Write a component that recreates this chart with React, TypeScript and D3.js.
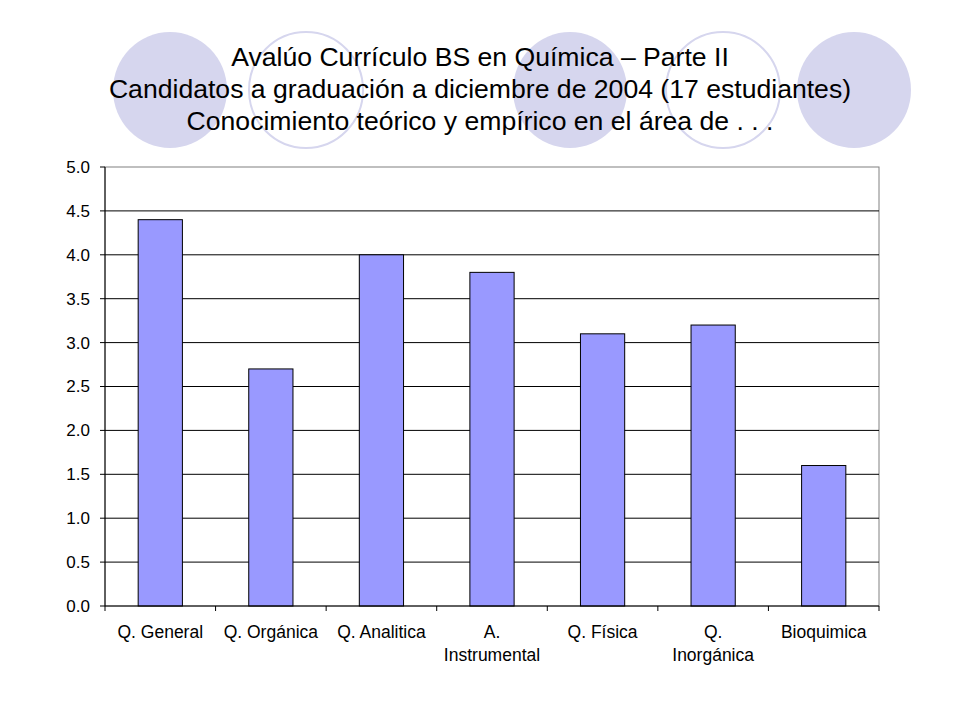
import * as d3 from "d3";

const categories = [
  ["Q. General"],
  ["Q. Orgánica"],
  ["Q. Analitica"],
  ["A.", "Instrumental"],
  ["Q. Física"],
  ["Q.", "Inorgánica"],
  ["Bioquimica"],
];
const values = [4.4, 2.7, 4.0, 3.8, 3.1, 3.2, 1.6];
const yTicks = [0, 0.5, 1, 1.5, 2, 2.5, 3, 3.5, 4, 4.5, 5];
const titleLines = [
  "Avalúo Currículo BS en Química – Parte II",
  "Candidatos a graduación a diciembre de 2004 (17 estudiantes)",
  "Conocimiento teórico y empírico en el área de . . .",
];

// decorative circles behind the title: [cx, filled]
const circles: [number, boolean][] = [
  [170, true],
  [306, false],
  [570, true],
  [723, false],
  [854, true],
];

const width = 960;
const height = 720;
const margin = { top: 167, right: 81, bottom: 114, left: 105 };

export default function App() {
  const innerW = width - margin.left - margin.right;
  const innerH = height - margin.top - margin.bottom;

  const x = d3
    .scaleBand<number>()
    .domain(d3.range(values.length))
    .range([0, innerW])
    .paddingInner(0.6)
    .paddingOuter(0.3);

  const y = d3.scaleLinear().domain([0, 5]).range([innerH, 0]);
  const step = innerW / values.length;

  return (
    <svg
      width={width}
      height={height}
      style={{ position: "absolute", left: 0, top: 0, background: "#fff" }}
      fontFamily="'Liberation Sans', Arial, sans-serif"
    >
      {circles.map(([cx, filled], i) => (
        <ellipse
          key={i}
          cx={cx}
          cy={90}
          rx={57}
          ry={58}
          fill={filled ? "#d6d6ee" : "#fff"}
          stroke="#d6d6ee"
          strokeWidth={filled ? 0 : 2}
        />
      ))}
      {titleLines.map((t, i) => (
        <text
          key={i}
          x={480}
          y={66 + i * 32}
          textAnchor="middle"
          fontSize={26.6}
          fill="#000"
        >
          {t}
        </text>
      ))}

      <g transform={`translate(${margin.left},${margin.top})`}>
        <rect width={innerW} height={innerH} fill="#fff" stroke="#808080" />
        {yTicks.map((t) => (
          <g key={t} transform={`translate(0,${y(t)})`}>
            {t > 0 && t < 5 && (
              <line x1={0} x2={innerW} stroke="#000" strokeWidth={1} />
            )}
            <line x1={-5} x2={0} stroke="#000" />
            <text
              x={-15}
              dy="0.35em"
              textAnchor="end"
              fontSize={17}
              fill="#000"
            >
              {t.toFixed(1)}
            </text>
          </g>
        ))}
        {values.map((v, i) => (
          <rect
            key={i}
            x={x(i)}
            y={y(v)}
            width={x.bandwidth()}
            height={innerH - y(v)}
            fill="#9999ff"
            stroke="#000"
            strokeWidth={1}
          />
        ))}
        <line x1={0} x2={0} y1={0} y2={innerH} stroke="#000" />
        <line x1={0} x2={innerW} y1={innerH} y2={innerH} stroke="#000" />
        {d3.range(values.length + 1).map((i) => (
          <line
            key={i}
            x1={i * step}
            x2={i * step}
            y1={innerH}
            y2={innerH + 5}
            stroke="#000"
          />
        ))}
        {categories.map((lines, i) => {
          const cx = (x(i) ?? 0) + x.bandwidth() / 2;
          return (
            <text
              key={i}
              x={cx}
              y={innerH + 32}
              textAnchor="middle"
              fontSize={17.5}
              fill="#000"
            >
              {lines.map((l, j) => (
                <tspan key={j} x={cx} dy={j === 0 ? 0 : 23}>
                  {l}
                </tspan>
              ))}
            </text>
          );
        })}
      </g>
    </svg>
  );
}
